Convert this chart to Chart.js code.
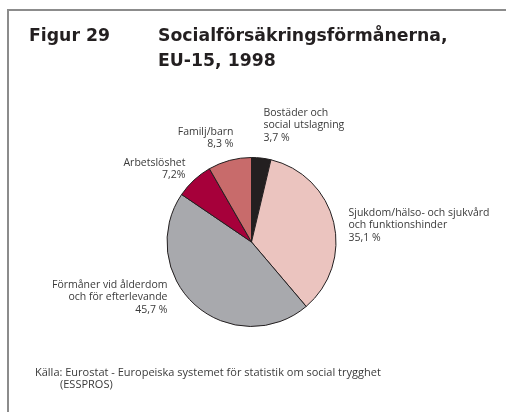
<!DOCTYPE html>
<html>
<head>
<meta charset="utf-8">
<script src="https://cdn.jsdelivr.net/npm/chart.js@4"></script>
<style>
  html, body { margin: 0; padding: 0; background: #fff; }
  #wrap { position: relative; width: 506px; height: 412px; overflow: hidden; }
  #frame { position: absolute; left: 7px; top: 9px; width: 520px; height: 420px;
           border-top: 2px solid #8c8c8c; border-left: 2px solid #8c8c8c; }
  #chart { position: absolute; left: 0; top: 0; }
</style>
</head>
<body>
<div id="wrap">
  <div id="frame"></div>
  <canvas id="chart" width="506" height="412"></canvas>
</div>
<script>
// Data (clockwise from 12 o'clock)
const categories = [
  'Bostäder och social utslagning',
  'Sjukdom/hälso- och sjukvård och funktionshinder',
  'Förmåner vid ålderdom och för efterlevande',
  'Arbetslöshet',
  'Familj/barn'
];
const shares = [3.7, 35.1, 45.7, 7.2, 8.3];
const shareLabels = ['3,7 %', '35,1 %', '45,7 %', '7,2%', '8,3 %'];
const sliceColors = ['#231f20', '#ebc4bf', '#a8a9ad', '#a6003a', '#c86b6b'];

// Label text lines and where they sit relative to the pie centre
const labelLines = [
  ['Bostäder och', 'social utslagning'],
  ['Sjukdom/hälso- och sjukvård', 'och funktionshinder'],
  ['Förmåner vid ålderdom', 'och för efterlevande'],
  ['Arbetslöshet'],
  ['Familj/barn']
];
const labelPos = [
  { dx: 12, dy: -129, align: 'left' },
  { dx: 97, dy: -29, align: 'left' },
  { dx: -84, dy: 43, align: 'right' },
  { dx: -66, dy: -79, align: 'right' },
  { dx: -18, dy: -110, align: 'right' }
];

const FONT = '"Open Sans", "DejaVu Sans", sans-serif';
const TITLE_FONT = '"DejaVu Sans", sans-serif';

// Draw title, slice labels and source note
const textPlugin = {
  id: 'texts',
  afterDraw(chart) {
    const ctx = chart.ctx;
    const arc = chart.getDatasetMeta(0).data[0];
    const cx = arc.x, cy = arc.y;
    ctx.save();
    ctx.textBaseline = 'middle';

    // title
    ctx.fillStyle = '#231f20';
    ctx.font = 'bold 17.3px ' + TITLE_FONT;
    ctx.textAlign = 'left';
    ctx.fillText('Figur 29', 29, 37);
    ctx.fillText('Socialförsäkringsförmånerna,', 158, 37);
    ctx.fillText('EU-15, 1998', 158, 62);

    // slice labels
    ctx.fillStyle = '#3a3a3a';
    ctx.font = '10.5px ' + FONT;
    labelLines.forEach((lines, i) => {
      const p = labelPos[i];
      ctx.textAlign = p.align;
      const all = lines.concat([shareLabels[i]]);
      all.forEach((t, j) => ctx.fillText(t, cx + p.dx, cy + p.dy + j * 12.5));
    });

    // source
    ctx.font = '11px ' + FONT;
    ctx.textAlign = 'left';
    ctx.fillText('Källa: Eurostat - Europeiska systemet för statistik om social trygghet', 35, 373);
    ctx.fillText('(ESSPROS)', 60, 385);
    ctx.restore();
  }
};

new Chart(document.getElementById('chart'), {
  type: 'pie',
  data: {
    labels: categories,
    datasets: [{
      data: shares,
      backgroundColor: sliceColors,
      borderColor: '#231f20',
      borderWidth: 1
    }]
  },
  options: {
    responsive: false,
    animation: false,
    layout: { padding: { left: 166, right: 169, top: 157, bottom: 85 } },
    plugins: {
      legend: { display: false },
      tooltip: { enabled: false }
    }
  },
  plugins: [textPlugin]
});
</script>
</body>
</html>
